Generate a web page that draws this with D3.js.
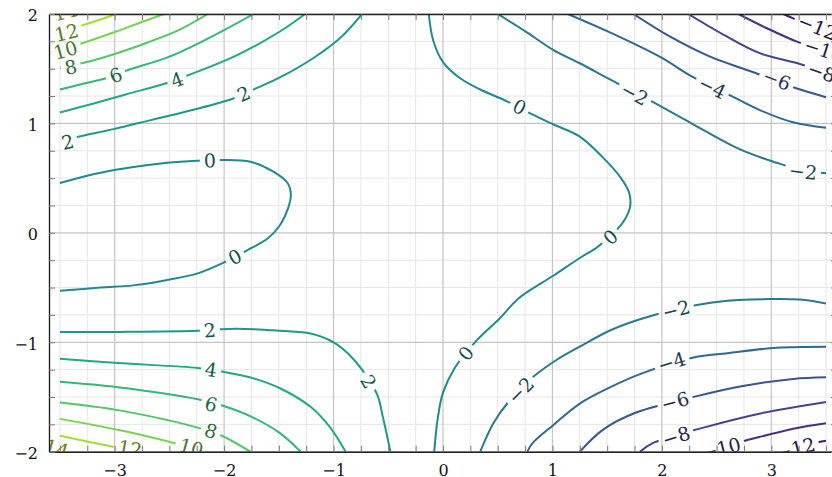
<!DOCTYPE html>
<html>
<head>
<meta charset="utf-8">
<script src="https://cdn.jsdelivr.net/npm/d3@7"></script>
<style>
  body { margin: 0; background: #fff; }
  svg { display: block; overflow: hidden; }
</style>
</head>
<body>
<div id="chart"></div>
<script>
// Contour levels
const levels = [-12, -10, -8, -6, -4, -2, 0, 2, 4, 6, 8, 10, 12, 14];

// Axis tick labels
const xTicks = [-3, -2, -1, 0, 1, 2, 3];
const yTicks = [-2, -1, 0, 1, 2];

// Contour paths, [x, y] in data units
// upper left
const ul14 = [[-3.5, 1.985], [-3.44, 2.0]];
const ul12 = [[-3.5, 1.85], [-3.3, 1.895], [-3.13, 1.95], [-2.99, 2.0]];
const ul10 = [[-3.5, 1.675], [-3.29, 1.735], [-3.0, 1.835], [-2.77, 1.92], [-2.55, 2.0]];
const ul8 = [[-3.5, 1.51], [-3.28, 1.555], [-3.0, 1.635], [-2.7, 1.74], [-2.4, 1.86], [-2.15, 2.0]];
const ul6 = [[-3.5, 1.31], [-3.3, 1.36], [-3.07, 1.415], [-2.87, 1.49], [-2.5, 1.61], [-2.1, 1.80], [-1.73, 2.0]];
const ul4 = [[-3.5, 1.10], [-3.2, 1.18], [-2.9, 1.265], [-2.52, 1.37], [-2.33, 1.44], [-1.9, 1.615], [-1.49, 1.84], [-1.26, 2.0]];
const ul2 = [[-3.5, 0.84], [-3.3, 0.885], [-3.0, 0.95], [-2.67, 1.03], [-2.3, 1.12], [-1.91, 1.23], [-1.71, 1.32],
             [-1.49, 1.42], [-1.18, 1.60], [-0.94, 1.78], [-0.74, 2.0]];
// zero lines
const zeroLeft = [[-3.5, 0.455], [-3.13, 0.55], [-2.52, 0.64], [-2.24, 0.66], [-2.03, 0.665], [-1.76, 0.65], [-1.55, 0.56],
                  [-1.42, 0.455], [-1.39, 0.35], [-1.41, 0.24], [-1.49, 0.07], [-1.60, -0.05], [-1.79, -0.16], [-2.0, -0.27],
                  [-2.24, -0.37], [-2.52, -0.43], [-2.83, -0.48], [-3.13, -0.50], [-3.5, -0.53]];
const zeroRight = [[-0.13, 2.0], [-0.09, 1.76], [0.0, 1.56], [0.16, 1.41], [0.34, 1.31], [0.59, 1.20], [0.82, 1.08],
                   [1.01, 0.99], [1.25, 0.88], [1.46, 0.69], [1.62, 0.51], [1.70, 0.37], [1.71, 0.24], [1.66, 0.12],
                   [1.59, 0.03], [1.41, -0.13], [1.25, -0.23], [1.01, -0.39], [0.69, -0.60], [0.52, -0.78], [0.31, -0.98],
                   [0.11, -1.23], [0.0, -1.46], [-0.05, -1.71], [-0.08, -2.0]];
// lower left
const ll2 = [[-3.5, -0.905], [-2.97, -0.905], [-2.24, -0.895], [-2.03, -0.88], [-1.73, -0.88], [-1.49, -0.895], [-1.21, -0.92],
             [-1.0, -1.0], [-0.87, -1.10], [-0.74, -1.25], [-0.60, -1.48], [-0.55, -1.68], [-0.48, -2.0]];
const ll4 = [[-3.5, -1.15], [-2.97, -1.19], [-2.24, -1.235], [-2.01, -1.27], [-1.73, -1.33], [-1.49, -1.42], [-1.21, -1.59],
             [-1.03, -1.78], [-0.89, -2.0]];
const ll6 = [[-3.5, -1.36], [-2.97, -1.41], [-2.24, -1.52], [-2.01, -1.58], [-1.73, -1.69], [-1.49, -1.83], [-1.30, -2.0]];
const ll8 = [[-3.5, -1.55], [-2.97, -1.62], [-2.24, -1.78], [-2.03, -1.85], [-1.76, -2.0]];
const ll10 = [[-3.5, -1.70], [-2.97, -1.80], [-2.46, -1.92], [-2.17, -2.0]];
const ll12 = [[-3.5, -1.855], [-3.04, -1.95], [-2.76, -2.0]];
const ll14 = [[-3.5, -1.97], [-3.4, -2.0]];
// upper right
const ur2 = [[0.50, 2.0], [0.77, 1.83], [1.01, 1.67], [1.25, 1.55], [1.53, 1.40], [1.89, 1.21], [2.29, 0.99], [2.72, 0.76],
             [3.05, 0.64], [3.29, 0.57], [3.5, 0.545]];
const ur4 = [[1.14, 2.0], [1.53, 1.83], [1.98, 1.61], [2.29, 1.42], [2.58, 1.28], [2.90, 1.12], [3.20, 1.01], [3.5, 0.96]];
const ur6 = [[1.74, 2.0], [2.08, 1.79], [2.44, 1.61], [2.83, 1.47], [3.20, 1.33], [3.5, 1.24]];
const ur8 = [[2.24, 2.0], [2.60, 1.79], [2.90, 1.64], [3.24, 1.55], [3.5, 1.46]];
const ur10 = [[2.70, 2.0], [2.96, 1.87], [3.24, 1.745], [3.5, 1.66]];
const ur12 = [[3.11, 2.0], [3.20, 1.96], [3.5, 1.84]];
// lower right
const lr2 = [[0.34, -2.0], [0.46, -1.74], [0.59, -1.555], [0.82, -1.32], [1.04, -1.16], [1.25, -1.04], [1.53, -0.89],
             [1.83, -0.78], [2.32, -0.66], [2.60, -0.62], [2.99, -0.605], [3.26, -0.61], [3.5, -0.645]];
const lr4 = [[0.77, -2.0], [0.82, -1.92], [1.01, -1.755], [1.25, -1.56], [1.53, -1.41], [1.83, -1.28], [2.29, -1.14],
             [2.60, -1.10], [3.05, -1.05], [3.5, -1.04]];
const lr6 = [[1.25, -2.0], [1.46, -1.80], [1.77, -1.64], [2.33, -1.49], [2.74, -1.40], [3.20, -1.335], [3.5, -1.32]];
const lr8 = [[1.80, -2.0], [1.92, -1.92], [2.38, -1.78], [2.90, -1.65], [3.5, -1.545]];
const lr10 = [[2.35, -2.0], [2.72, -1.91], [3.20, -1.79], [3.5, -1.74]];
const lr12 = [[3.08, -2.0], [3.40, -1.92], [3.5, -1.90]];

// which level each path belongs to
const contourLines = [
    [14, ul14], [12, ul12], [10, ul10], [8, ul8], [6, ul6], [4, ul4], [2, ul2],
    [0, zeroLeft], [0, zeroRight],
    [2, ll2], [4, ll4], [6, ll6], [8, ll8], [10, ll10], [12, ll12], [14, ll14],
    [-2, ur2], [-4, ur4], [-6, ur6], [-8, ur8], [-10, ur10], [-12, ur12],
    [-2, lr2], [-4, lr4], [-6, lr6], [-8, lr8], [-10, lr10], [-12, lr12]
];

// inline contour labels: [level, x, y]
const labelSpots = [
    [14, -3.45, 2.02], [12, -3.44, 1.83], [10, -3.45, 1.67], [8, -3.4, 1.515], [6, -2.99, 1.44], [4, -2.43, 1.40],
    [2, -3.43, 0.83], [2, -1.82, 1.27],
    [0, -2.13, 0.66], [0, -1.9, -0.22], [0, 0.70, 1.15], [0, 1.53, -0.04], [0, 0.21, -1.10],
    [2, -2.13, -0.89], [2, -0.68, -1.36], [4, -2.12, -1.25], [6, -2.12, -1.565], [8, -2.12, -1.81],
    [10, -2.3, -1.96], [12, -2.86, -1.97], [14, -3.53, -1.97],
    [-2, 1.75, 1.27], [-2, 3.29, 0.56], [-4, 2.46, 1.33], [-6, 3.05, 1.40], [-8, 3.46, 1.47], [-10, 3.48, 1.67], [-12, 3.42, 1.88],
    [-2, 0.71, -1.44], [-2, 2.13, -0.70], [-4, 2.09, -1.18], [-6, 2.12, -1.54], [-8, 2.13, -1.86], [-10, 2.54, -1.97], [-12, 3.22, -1.97]
];

// Dimensions
const margin = { top: 14, left: 49 };
const width = 788;
const height = 437.7;

const svg = d3.select("#chart")
    .append("svg")
    .attr("width", 832)
    .attr("height", 477);

const g = svg.append("g")
    .attr("transform", `translate(${margin.left},${margin.top})`);

// Scales
const x = d3.scaleLinear().domain([-3.6, 3.6]).range([0, width]);
const y = d3.scaleLinear().domain([-2, 2]).range([height, 0]);
const color = d3.scaleSequential(d3.interpolateViridis).domain([-14, 16]);
const fmt = d3.format("d");

const xMinor = d3.range(-3.5, 3.51, 0.25);
const yMinor = d3.range(-2, 2.01, 0.25);

svg.append("defs").append("clipPath")
    .attr("id", "plotClip")
    .append("rect")
    .attr("x", margin.left)
    .attr("y", margin.top)
    .attr("width", width)
    .attr("height", height);

// Grid
const grid = g.append("g");
grid.selectAll(".vminor")
    .data(xMinor.filter(d => !Number.isInteger(d)))
    .enter().append("line")
    .attr("x1", d => x(d)).attr("x2", d => x(d))
    .attr("y1", 0).attr("y2", height)
    .attr("stroke", "#e6e6e6").attr("stroke-width", 1);
grid.selectAll(".hminor")
    .data(yMinor.filter(d => !Number.isInteger(d)))
    .enter().append("line")
    .attr("x1", 0).attr("x2", width)
    .attr("y1", d => y(d)).attr("y2", d => y(d))
    .attr("stroke", "#e6e6e6").attr("stroke-width", 1);
grid.selectAll(".vmajor")
    .data(xTicks)
    .enter().append("line")
    .attr("x1", d => x(d)).attr("x2", d => x(d))
    .attr("y1", 0).attr("y2", height)
    .attr("stroke", "#c4c4c4").attr("stroke-width", 1.2);
grid.selectAll(".hmajor")
    .data(yTicks)
    .enter().append("line")
    .attr("x1", 0).attr("x2", width)
    .attr("y1", d => y(d)).attr("y2", d => y(d))
    .attr("stroke", "#c4c4c4").attr("stroke-width", 1.2);

// Labels first (so their size can cut the lines)
const labelColor = v => d3.interpolateRgb(color(v), "#000")(0.45);
const labelLayer = svg.append("g").attr("clip-path", "url(#plotClip)")
    .append("g")
    .attr("transform", `translate(${margin.left},${margin.top})`);

const mask = svg.select("defs").append("mask")
    .attr("id", "labelMask")
    .attr("maskUnits", "userSpaceOnUse")
    .attr("x", -50).attr("y", -50)
    .attr("width", width + 100).attr("height", height + 100);
mask.append("rect")
    .attr("x", -50).attr("y", -50)
    .attr("width", width + 100).attr("height", height + 100)
    .attr("fill", "white");

// angle of the nearest segment of a same-level path
function labelAngle(level, px, py) {
    let best = Infinity, ang = 0;
    contourLines.filter(c => c[0] === level).forEach(c => {
        const pts = c[1].map(p => [x(p[0]), y(p[1])]);
        for (let i = 0; i < pts.length - 1; i++) {
            const [x1, y1] = pts[i], [x2, y2] = pts[i + 1];
            const dx = x2 - x1, dy = y2 - y1;
            const t = Math.max(0, Math.min(1, ((px - x1) * dx + (py - y1) * dy) / (dx * dx + dy * dy)));
            const d = Math.hypot(x1 + t * dx - px, y1 + t * dy - py);
            if (d < best) { best = d; ang = Math.atan2(dy, dx) * 180 / Math.PI; }
        }
    });
    if (ang > 90) ang -= 180;
    if (ang < -90) ang += 180;
    return ang;
}

labelSpots.forEach(([v, lx, ly]) => {
    const px = x(lx), py = y(ly);
    const ang = labelAngle(v, px, py);
    const t = labelLayer.append("text")
        .attr("transform", `translate(${px},${py}) rotate(${ang})`)
        .attr("text-anchor", "middle")
        .attr("dy", "0.36em")
        .attr("font-family", "DejaVu Serif")
        .attr("font-size", 19)
        .attr("fill", labelColor(v))
        .text(fmt(v));
    const len = t.node().getComputedTextLength();
    mask.append("rect")
        .attr("x", -len / 2 - 4).attr("y", -8)
        .attr("width", len + 8).attr("height", 16)
        .attr("transform", `translate(${px},${py}) rotate(${ang})`)
        .attr("fill", "black");
});

// Contour lines
const line = d3.line()
    .x(d => x(d[0]))
    .y(d => y(d[1]))
    .curve(d3.curveCatmullRom.alpha(0.5));

const lineLayer = svg.insert("g", "g:nth-of-type(2)")
    .attr("clip-path", "url(#plotClip)")
    .append("g")
    .attr("transform", `translate(${margin.left},${margin.top})`)
    .append("g")
    .attr("mask", "url(#labelMask)");

lineLayer.selectAll("path")
    .data(contourLines)
    .enter().append("path")
    .attr("d", d => line(d[1]))
    .attr("fill", "none")
    .attr("stroke", d => color(d[0]))
    .attr("stroke-width", 2);

// Axes with inward ticks
const frame = svg.append("g")
    .attr("transform", `translate(${margin.left},${margin.top})`);

const xAxis = frame.append("g")
    .attr("transform", `translate(0,${height})`)
    .call(d3.axisBottom(x).tickValues(xMinor).tickSize(-6).tickSizeOuter(0).tickPadding(13)
        .tickFormat(d => Number.isInteger(d) ? fmt(d) : ""));
frame.append("g")
    .call(d3.axisTop(x).tickValues(xMinor).tickSize(-6).tickSizeOuter(0).tickFormat(""));
const yAxis = frame.append("g")
    .call(d3.axisLeft(y).tickValues(yMinor).tickSize(-6).tickSizeOuter(0).tickPadding(11)
        .tickFormat(d => Number.isInteger(d) ? fmt(d) : ""));
frame.append("g")
    .attr("transform", `translate(${width},0)`)
    .call(d3.axisRight(y).tickValues(yMinor).tickSize(-6).tickSizeOuter(0).tickFormat(""));

frame.selectAll(".tick line").attr("stroke", "#7a7a7a");
frame.selectAll(".domain").attr("stroke", "#222").attr("stroke-width", 1.4);
frame.selectAll(".tick text")
    .attr("font-family", "DejaVu Serif")
    .attr("font-size", 16)
    .attr("fill", "#111");
yAxis.selectAll(".tick text").attr("dy", "0.42em");
</script>
</body>
</html>
